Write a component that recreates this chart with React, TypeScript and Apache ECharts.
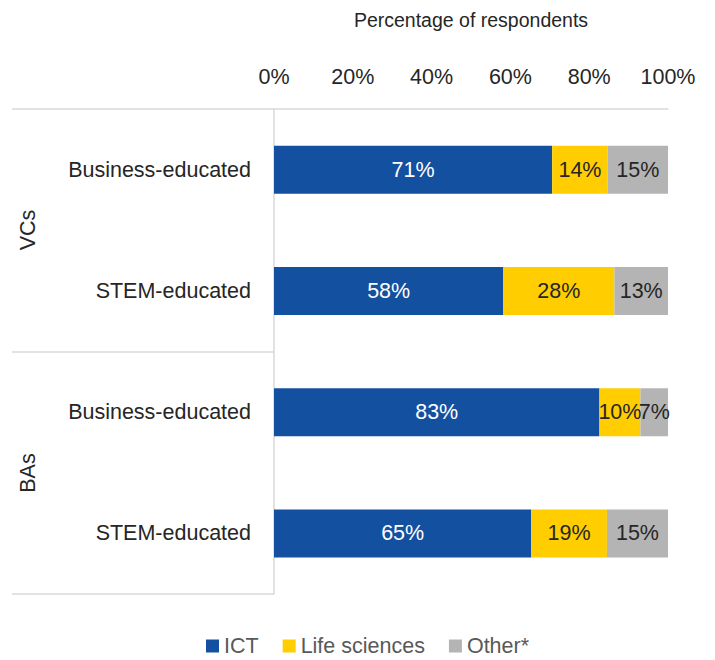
import React, { useEffect, useRef } from "react";
import * as echarts from "echarts";

const categories = ["Business-educated", "STEM-educated", "Business-educated", "STEM-educated"];
const groups = ["VCs", "BAs"];
const seriesNames = ["ICT", "Life sciences", "Other*"];
const ictValues = [70.6, 58.2, 82.6, 65.3];
const lifeValues = [14.1, 28.2, 10.4, 19.2];
const otherValues = [15.3, 13.6, 7.0, 15.5];
const ictLabels = ["71%", "58%", "83%", "65%"];
const lifeLabels = ["14%", "28%", "10%", "19%"];
const otherLabels = ["15%", "13%", "7%", "15%"];
const xTicks = [0, 20, 40, 60, 80, 100];

const FONT = "'Liberation Sans', Arial, sans-serif";
const LINE = "#d9d9d9";
const FS = 21.5;

export default function App() {
  const ref = useRef<HTMLDivElement>(null);
  useEffect(() => {
    if (!ref.current) return;
    const chart = echarts.init(ref.current, undefined, { renderer: "svg" });
    const mk = (name: string, values: number[], labels: string[], color: string, labelColor: string) => ({
      name,
      type: "bar",
      stack: "total",
      barWidth: 48,
      data: values,
      itemStyle: { color },
      label: {
        show: true,
        position: "inside",
        formatter: (p: any) => labels[p.dataIndex],
        color: labelColor,
        fontSize: FS,
        fontFamily: FONT,
      },
      emphasis: { disabled: true },
    });
    chart.setOption({
      animation: false,
      textStyle: { fontFamily: FONT },
      grid: { left: 274, right: 47, top: 109, bottom: 66, containLabel: false },
      xAxis: {
        type: "value",
        position: "top",
        min: xTicks[0],
        max: xTicks[xTicks.length - 1],
        interval: 20,
        name: "Percentage of respondents",
        nameLocation: "middle",
        nameGap: 79,
        nameTextStyle: { fontSize: 19.5, color: "#262626", fontFamily: FONT },
        axisLine: { show: true, lineStyle: { color: LINE, width: 1.5 } },
        axisTick: { show: false },
        splitLine: { show: false },
        axisLabel: { formatter: "{value}%", fontSize: FS, color: "#262626", margin: 21, fontFamily: FONT },
      },
      yAxis: {
        type: "category",
        inverse: true,
        data: categories,
        axisLine: { show: true, lineStyle: { color: LINE, width: 1.5 } },
        axisTick: { show: false },
        axisLabel: { fontSize: FS, color: "#262626", margin: 23, fontFamily: FONT },
      },
      legend: {
        data: seriesNames,
        left: 201,
        top: 630,
        icon: "rect",
        itemWidth: 13,
        itemHeight: 13,
        itemGap: 24,
        textStyle: { fontSize: FS, color: "#595959", fontFamily: FONT },
      },
      graphic: [
        { type: "line", shape: { x1: 12, y1: 109, x2: 274, y2: 109 }, style: { stroke: LINE, lineWidth: 1.5 } },
        { type: "line", shape: { x1: 12, y1: 352, x2: 274, y2: 352 }, style: { stroke: LINE, lineWidth: 1.5 } },
        { type: "line", shape: { x1: 12, y1: 594, x2: 274, y2: 594 }, style: { stroke: LINE, lineWidth: 1.5 } },
        {
          type: "text",
          x: 28,
          y: 230,
          rotation: Math.PI / 2,
          style: { text: groups[0], fontSize: FS, fill: "#262626", fontFamily: FONT, align: "center", verticalAlign: "middle" },
        },
        {
          type: "text",
          x: 28,
          y: 473,
          rotation: Math.PI / 2,
          style: { text: groups[1], fontSize: FS, fill: "#262626", fontFamily: FONT, align: "center", verticalAlign: "middle" },
        },
      ],
      series: [
        mk(seriesNames[0], ictValues, ictLabels, "#1450A0", "#ffffff"),
        mk(seriesNames[1], lifeValues, lifeLabels, "#FFCD00", "#262626"),
        mk(seriesNames[2], otherValues, otherLabels, "#B4B4B4", "#262626"),
      ],
    });
    return () => chart.dispose();
  }, []);
  return <div ref={ref} style={{ position: "absolute", left: 0, top: 0, width: 715, height: 660 }} />;
}
